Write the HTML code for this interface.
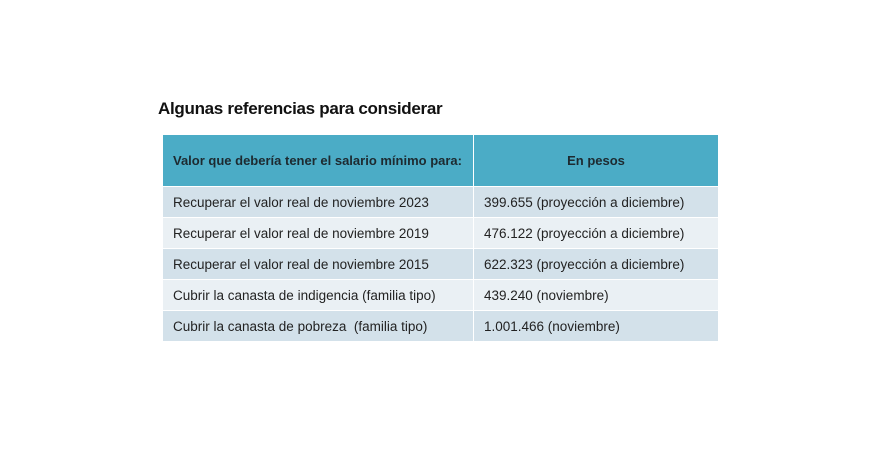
<!DOCTYPE html>
<html><head><meta charset="utf-8"><style>
body{margin:0;width:887px;height:470px;background:#fff;font-family:"Liberation Sans",sans-serif;position:relative;overflow:hidden}
.title{position:absolute;left:158px;top:99px;font-size:17px;font-weight:bold;color:#111;letter-spacing:-0.3px}
table{position:absolute;left:163px;top:135px;border-collapse:collapse;width:556px;font-size:13.5px;color:#222}
td,th{padding:0 10px;border-right:1px solid #fff;border-bottom:1px solid #fff}
th{background:#4bacc6;height:51px;font-weight:bold;font-size:13px;color:#1d2a30}
th.l{text-align:left;line-height:20px}
tr.d td{background:#d3e1ea}
tr.l td{background:#eaf0f4}
td{height:30px}
td.c1{width:290px}
</style></head><body>
<div class="title">Algunas referencias para considerar</div>
<table>
<tr><th class="l c1">Valor que debería tener el salario mínimo para:</th><th>En pesos</th></tr>
<tr class="d"><td class="c1">Recuperar el valor real de noviembre 2023</td><td>399.655 (proyección a diciembre)</td></tr>
<tr class="l"><td class="c1">Recuperar el valor real de noviembre 2019</td><td>476.122 (proyección a diciembre)</td></tr>
<tr class="d"><td class="c1">Recuperar el valor real de noviembre 2015</td><td>622.323 (proyección a diciembre)</td></tr>
<tr class="l"><td class="c1">Cubrir la canasta de indigencia (familia tipo)</td><td>439.240 (noviembre)</td></tr>
<tr class="d"><td class="c1">Cubrir la canasta de pobreza &nbsp;(familia tipo)</td><td>1.001.466 (noviembre)</td></tr>
</table>
</body></html>
